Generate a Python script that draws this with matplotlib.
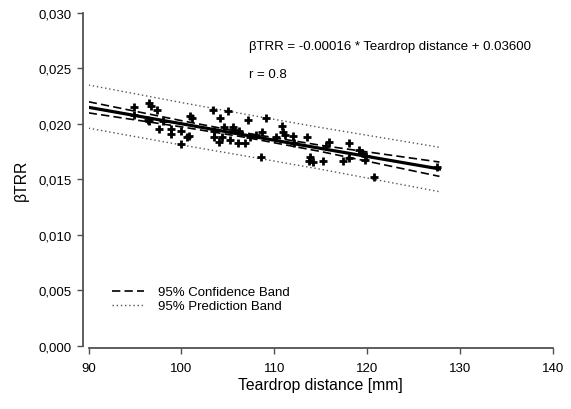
import numpy as np
import matplotlib
matplotlib.use("Agg")
import matplotlib.pyplot as plt
from matplotlib.ticker import FuncFormatter

plt.rcParams['font.family'] = ['Liberation Sans', 'DejaVu Sans']

# measured points (Teardrop distance [mm], beta TRR)
td = [94.9, 94.9, 96.5, 96.7, 96.4, 97.4, 96.5, 98.0, 97.6, 98.9,
      98.9, 99.9, 99.9, 100.9, 101.1, 100.8, 100.6, 103.4, 105.0, 104.1,
      103.5, 103.5, 104.0, 104.4, 104.6, 105.2, 105.5, 105.7, 106.1, 106.8,
      106.2, 107.2, 107.4, 108.0, 108.7, 108.6, 109.1, 110.2, 110.8, 110.9,
      111.2, 112.0, 113.5, 115.9, 115.6, 118.1, 119.1, 119.5, 119.8, 119.9,
      113.9, 113.7, 114.2, 115.3, 117.4, 118.1, 120.7, 127.5, 112.1]
btrr = [0.02156, 0.02084, 0.02189, 0.02165, 0.02039, 0.02126, 0.02024, 0.02024, 0.01955, 0.01955,
        0.01914, 0.01940, 0.01820, 0.02075, 0.02051, 0.01895, 0.01886, 0.02126, 0.02120, 0.02051,
        0.01934, 0.01880, 0.01841, 0.01880, 0.01976, 0.01856, 0.01970, 0.01949, 0.01829, 0.01829,
        0.01940, 0.02036, 0.01880, 0.01901, 0.01931, 0.01700, 0.02054, 0.01880, 0.01985, 0.01925,
        0.01904, 0.01889, 0.01886, 0.01835, 0.01805, 0.01829, 0.01768, 0.01739, 0.01678, 0.01714,
        0.01700, 0.01664, 0.01655, 0.01664, 0.01669, 0.01694, 0.01525, 0.01610, 0.01833]

x_band = [90, 100, 107, 115, 127.8]
fit = [0.0215, 0.02002, 0.01898, 0.01780, 0.01595]
ci_upper = [0.0220, 0.0203, 0.01918, 0.01808, 0.01657]
ci_lower = [0.0210, 0.01974, 0.01878, 0.01752, 0.01528]
pi_upper = [0.02351, 0.02193, 0.02086, 0.01968, 0.0179]
pi_lower = [0.01962, 0.01811, 0.0171, 0.01592, 0.0139]

fig = plt.figure(figsize=(5.71, 4.10), dpi=100)
ax = fig.add_axes([0.1553, 0.1537, 0.8126, 0.8122])

ax.plot(x_band, pi_upper, color='#555555', lw=1.0, ls=(0, (1, 2)), label='95% Prediction Band')
ax.plot(x_band, pi_lower, color='#555555', lw=1.0, ls=(0, (1, 2)))
ax.plot(x_band, ci_upper, color='black', lw=1.2, ls=(0, (5, 2.5)), label='95% Confidence Band')
ax.plot(x_band, ci_lower, color='black', lw=1.2, ls=(0, (5, 2.5)))
ax.plot(x_band, fit, color='black', lw=2.3)
ax.plot(td, btrr, ls='none', marker='+', ms=5.5, mew=2, color='black')

ax.set_xlim(90, 140)
ax.set_ylim(0, 0.030)
ax.set_xticks([90, 100, 110, 120, 130, 140])
ax.set_yticks(np.arange(0, 0.0301, 0.005))
ax.yaxis.set_major_formatter(FuncFormatter(lambda v, p: ('%.3f' % v).replace('.', ',')))

for s in ['top', 'right']:
    ax.spines[s].set_visible(False)
ax.spines['left'].set_position(('outward', 4))
ax.spines['bottom'].set_position(('outward', 1.5))
for s in ['left', 'bottom']:
    ax.spines[s].set_color('#505050')
    ax.spines[s].set_linewidth(1.3)
ax.tick_params(direction='out', length=4, width=1, color='#505050', labelsize=9.5)
ax.tick_params(axis='y', pad=4)
ax.tick_params(axis='x', pad=6)

ax.set_xlabel('Teardrop distance [mm]', fontsize=11.3, labelpad=2)
ax.set_ylabel('βTRR', fontsize=11.3, labelpad=7)

ax.text(107.3, 0.0270, 'βTRR = -0.00016 * Teardrop distance + 0.03600', fontsize=9.5, va='center')
ax.text(107.3, 0.0245, 'r = 0.8', fontsize=9.5, va='center')

h, l = ax.get_legend_handles_labels()
ax.legend(h[::-1], l[::-1], loc='lower left', bbox_to_anchor=(0.025, 0.065), frameon=False,
          fontsize=9.5, handlelength=2.4, handletextpad=1.1, labelspacing=0.15)

fig.savefig('out.png', dpi=100)
